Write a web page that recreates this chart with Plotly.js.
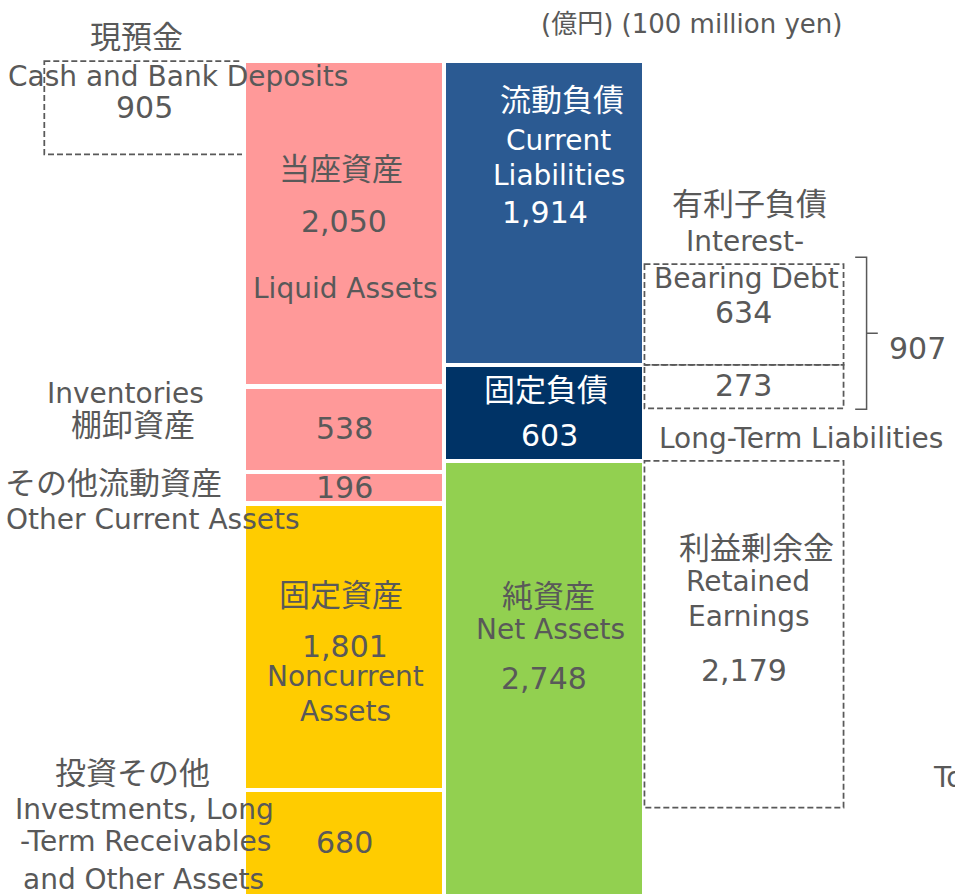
<!DOCTYPE html>
<html>
<head>
<meta charset="utf-8">
<script src="https://cdn.plot.ly/plotly-3.0.1.min.js"></script>
<style>html,body{margin:0;padding:0;background:#fff;}#chart{width:955px;height:894px;}</style>
</head>
<body>
<div id="chart"></div>
<script>
// ---------- DATA (億円 / 100 million yen) ----------
const assetNamesJa = ['当座資産', '棚卸資産', 'その他流動資産', '固定資産', '投資その他'];
const assetNamesEn = ['Liquid Assets', 'Inventories', 'Other Current Assets', 'Noncurrent Assets', 'Investments, Long-Term Receivables and Other Assets'];
const assetValues = [2050, 538, 196, 1801, 680];

const liabNamesJa = ['流動負債', '固定負債', '純資産'];
const liabNamesEn = ['Current Liabilities', 'Long-Term Liabilities', 'Net Assets'];
const liabValues = [1914, 603, 2748];

const cashValue = 905;                 // 現預金 Cash and Bank Deposits
const debtParts = [634, 273];          // 有利子負債: in current / long-term liabilities
const debtTotal = 907;                 // 有利子負債 total
const retainedEarnings = 2179;         // 利益剰余金
const unitLabel = '(億円) (100 million yen)';

// ---------- STYLE ----------
const assetColors = ['#FF9999', '#FF9999', '#FF9999', '#FFCC00', '#FFCC00'];
const liabColors = ['#2B5A92', '#003366', '#92D050'];
const GRAY = '#595959';
const LAT = 'DejaVu Sans, Noto Sans CJK JP, sans-serif';
const CJK = 'Noto Sans CJK JP, sans-serif';
const W = 955, H = 894;

const fmt = v => v.toLocaleString('en-US');

// ---------- TRACES ----------
const traces = [];
assetValues.forEach((v, i) => traces.push({
  type: 'bar', x: [0], y: [v], width: 1, name: assetNamesJa[i] + ' ' + assetNamesEn[i],
  marker: {color: assetColors[i], line: {color: '#ffffff', width: 4.5}},
  hoverinfo: 'name+y', showlegend: false
}));
liabValues.forEach((v, i) => traces.push({
  type: 'bar', x: [1], y: [v], width: 1, name: liabNamesJa[i] + ' ' + liabNamesEn[i],
  marker: {color: liabColors[i], line: {color: '#ffffff', width: 4.5}},
  hoverinfo: 'name+y', showlegend: false
}));

// cumulative boundaries
const curLiabEnd = liabValues[0];
const ltLiabEnd = liabValues[0] + liabValues[1];

// ---------- SHAPES ----------
const dash = {color: GRAY, width: 1.75, dash: '6px,3px'};
const shapes = [
  // cash box (decorative, not to scale)
  {type: 'rect', xref: 'paper', yref: 'paper', x0: 44.3 / W, x1: 250 / W, y0: 1 - 61 / H, y1: 1 - 154.3 / H, line: dash, layer: 'below'},
  // interest-bearing debt boxes
  {type: 'rect', x0: 1.5, x1: 2.494, y0: curLiabEnd - debtParts[0], y1: curLiabEnd, line: dash},
  {type: 'rect', x0: 1.5, x1: 2.494, y0: curLiabEnd, y1: curLiabEnd + debtParts[1], line: dash},
  // retained earnings box
  {type: 'rect', x0: 1.5, x1: 2.494, y0: ltLiabEnd, y1: ltLiabEnd + retainedEarnings, line: dash},
];
const bTop = curLiabEnd - debtParts[0] - 42, bBot = curLiabEnd + debtParts[1] + 6, bMid = (bTop + bBot) / 2;
shapes.push({type: 'path', path: `M2.552,${bTop} L2.609,${bTop} L2.609,${bBot} L2.552,${bBot} M2.609,${bMid} L2.665,${bMid}`,
  line: {color: GRAY, width: 1.5}});

// ---------- ANNOTATIONS ----------
const ann = [];
function T(text, x, y, kind, color, anchor) {
  const size = kind === 'cjk' ? 31 : kind === 'num' ? 30 : kind === 'unit' ? 26 : 28;
  const yy = kind === 'cjk' ? y - 3 : y;
  ann.push({text: text, xref: 'paper', yref: 'paper', x: x / W, y: 1 - yy / H,
    xanchor: anchor || 'center', yanchor: 'middle', showarrow: false,
    font: {family: kind === 'cjk' ? CJK : LAT, size: size, color: color || GRAY}});
}
const WH = '#ffffff';
T(unitLabel, 691, 24, 'unit');
// cash
T('現預金', 136, 37, 'cjk');
T('Cash and Bank Deposits', 177.5, 76.5, 'lat');
T(fmt(cashValue), 144, 107, 'num');
// liquid assets
T(assetNamesJa[0], 341, 170, 'cjk');
T(fmt(assetValues[0]), 344, 222, 'num');
T(assetNamesEn[0], 344.5, 288, 'lat');
// inventories
T(assetNamesEn[1], 125, 393, 'lat');
T(assetNamesJa[1], 132.5, 425, 'cjk');
T(fmt(assetValues[1]), 344.5, 428, 'num');
// other current
T(assetNamesJa[2], 113, 483, 'cjk');
T(fmt(assetValues[2]), 344.5, 487, 'num');
T(assetNamesEn[2], 153, 519, 'lat');
// noncurrent
T(assetNamesJa[3], 341, 595, 'cjk');
T(fmt(assetValues[3]), 344.5, 646, 'num');
T('Noncurrent', 345.5, 676, 'lat');
T('Assets', 345, 711, 'lat');
// investments
T(assetNamesJa[4], 132.5, 773, 'cjk');
T('Investments, Long', 144, 809, 'lat');
T('-Term Receivables', 145, 841, 'lat');
T('and Other Assets', 143.5, 879, 'lat');
T(fmt(assetValues[4]), 344, 842, 'num');
// current liabilities
T(liabNamesJa[0], 562, 101, 'cjk', WH);
T('Current', 558.6, 141, 'lat', WH);
T('Liabilities', 558.6, 175, 'lat', WH);
T(fmt(liabValues[0]), 544.5, 212, 'num', WH);
// long-term liabilities
T(liabNamesJa[1], 546, 390, 'cjk', WH);
T(fmt(liabValues[1]), 549, 435, 'num', WH);
T(liabNamesEn[1], 801, 438, 'lat');
// net assets
T(liabNamesJa[2], 548.5, 596, 'cjk');
T(liabNamesEn[2], 550, 629, 'lat');
T(fmt(liabValues[2]), 544, 678, 'num');
// interest-bearing debt
T('有利子負債', 749, 205, 'cjk');
T('Interest-', 745, 241, 'lat');
T('Bearing Debt', 746, 278, 'lat');
T(fmt(debtParts[0]), 743.5, 313, 'num');
T(fmt(debtParts[1]), 743.5, 385, 'num');
T(fmt(debtTotal), 917, 348, 'num');
// retained earnings
T('利益剰余金', 756, 548, 'cjk');
T('Retained', 747.5, 581, 'lat');
T('Earnings', 748.5, 616, 'lat');
T(fmt(retainedEarnings), 744, 670, 'num');
// total (cut off at right edge)
T('Total Assets', 931, 777, 'lat', GRAY, 'left');

// ---------- LAYOUT ----------
// x: 0 -> 344px, 1 -> 544.3px ; y: 0 -> 60.4px, 0.1591 px/unit (downward)
const xs = 200.3, x0px = 344, ys = 0.1591, y0px = 60.4;
const layout = {
  width: W, height: H,
  margin: {l: 0, r: 0, t: 0, b: 0, pad: 0},
  paper_bgcolor: '#ffffff', plot_bgcolor: '#ffffff',
  barmode: 'stack', bargap: 0,
  showlegend: false,
  xaxis: {range: [-x0px / xs, (W - x0px) / xs], visible: false, fixedrange: true},
  yaxis: {range: [(H - y0px) / ys, -y0px / ys], visible: false, fixedrange: true},
  shapes: shapes,
  annotations: ann,
  font: {family: LAT, color: GRAY}
};

Plotly.newPlot('chart', traces, layout, {displayModeBar: false, staticPlot: true});
</script>
</body>
</html>
